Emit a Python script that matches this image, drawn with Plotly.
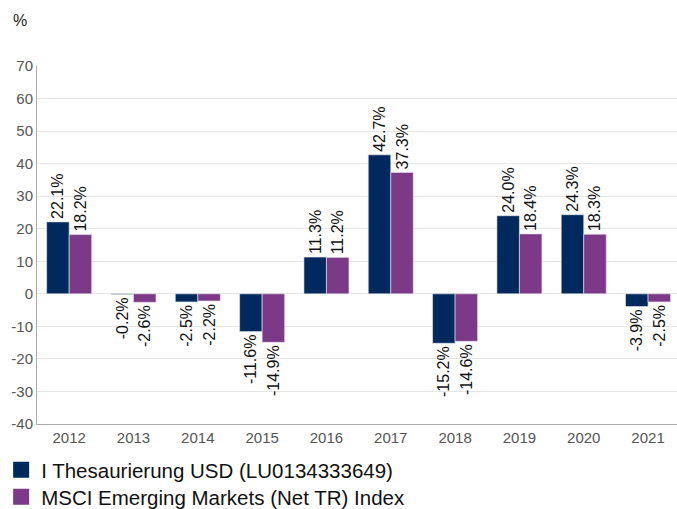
import plotly.graph_objects as go

years = ["2012", "2013", "2014", "2015", "2016", "2017", "2018", "2019", "2020", "2021"]
fund = [22.1, -0.2, -2.5, -11.6, 11.3, 42.7, -15.2, 24.0, 24.3, -3.9]
index = [18.2, -2.6, -2.2, -14.9, 11.2, 37.3, -14.6, 18.4, 18.3, -2.5]
names = ["I Thesaurierung USD (LU0134333649)", "MSCI Emerging Markets (Net TR) Index"]
colors = ["#002A5E", "#7B3987"]
y_ticks = list(range(-40, 71, 10))
y_ticktext = [str(v) for v in y_ticks]

FONT = "Liberation Sans, Arial, sans-serif"

fig = go.Figure()
for i, (vals, name, col) in enumerate(zip([fund, index], names, colors)):
    fig.add_trace(go.Bar(
        x=years, y=vals, name=name, showlegend=False,
        marker=dict(color=col, line=dict(color="#e8e8ee", width=0.6)),
        texttemplate="%{y:.1f}%", textposition="outside", textangle=-90,
        constraintext="none", cliponaxis=False,
        textfont=dict(family=FONT, size=16, color="#111"),
    ))
    fig.add_trace(go.Scatter(
        x=[None], y=[None], mode="markers", name=name, showlegend=True,
        legend="legend" if i == 0 else "legend2",
        marker=dict(symbol="square", size=22, color=col),
    ))

leg_common = dict(
    x=-0.056, xanchor="left", yref="container", yanchor="middle",
    orientation="v", font=dict(family=FONT, size=20.5, color="#111"),
    itemsizing="trace", bgcolor="rgba(0,0,0,0)", borderwidth=0,
)

fig.update_layout(
    width=677, height=509,
    margin=dict(l=37, r=0, t=66, b=85),
    plot_bgcolor="white", paper_bgcolor="white",
    barmode="group", bargap=0.3, bargroupgap=0,
    font=dict(family=FONT, size=15, color="#555"),
    legend=dict(y=(509 - 470) / 509, **leg_common),
    legend2=dict(y=(509 - 497) / 509, **leg_common),
    xaxis=dict(
        type="category", range=[-0.5, 9.45],
        showline=True, linecolor="#aaaaaa", linewidth=1,
        ticks="", tickfont=dict(size=15, color="#555"),
        showgrid=False, zeroline=False,
    ),
    yaxis=dict(
        range=[-40, 70], tickvals=y_ticks, ticktext=y_ticktext,
        showline=True, linecolor="#aaaaaa", linewidth=1,
        showgrid=True, gridcolor="#e6e6e6", gridwidth=1,
        zeroline=True, zerolinecolor="#e6e6e6", zerolinewidth=1,
        ticks="", tickfont=dict(size=15, color="#555"),
    ),
    annotations=[dict(
        text="%", xref="paper", yref="paper", x=-0.04, y=1.128,
        xanchor="left", yanchor="middle", showarrow=False,
        font=dict(family=FONT, size=16, color="#222"),
    )],
)

fig.write_html("out.html")
